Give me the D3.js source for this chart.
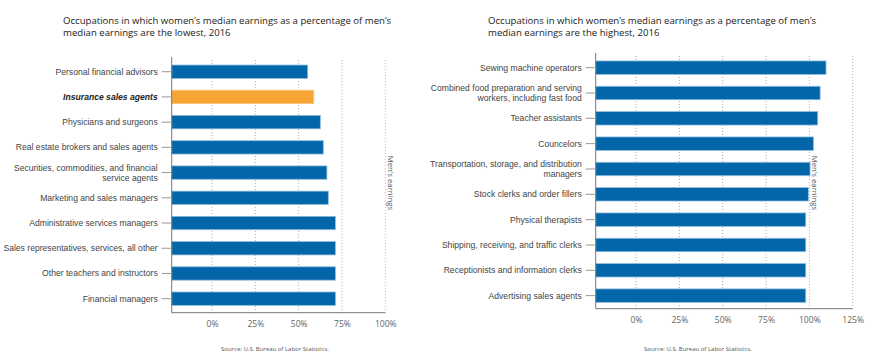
<!DOCTYPE html>
<html>
<head>
<meta charset="utf-8">
<script src="https://cdn.jsdelivr.net/npm/d3@7"></script>
<style>
  body { margin: 0; background: #fff; }
  svg { display: block; font-family: "Open Sans", sans-serif; }
</style>
</head>
<body>
<svg id="chart" width="875" height="359"></svg>
<script>
const leftTitle = ["Occupations in which women\u2019s median earnings as a percentage of men\u2019s", "median earnings are the lowest, 2016"];
const leftCategories = [
  ["Personal financial advisors"],
  ["Insurance sales agents"],
  ["Physicians and surgeons"],
  ["Real estate brokers and sales agents"],
  ["Securities, commodities, and financial", "service agents"],
  ["Marketing and sales managers"],
  ["Administrative services managers"],
  ["Sales representatives, services, all other"],
  ["Other teachers and instructors"],
  ["Financial managers"]
];
const leftValues = [55.2, 58.7, 62.5, 64.2, 66.3, 67.1, 71.2, 71.2, 71.2, 71.2];
const leftHighlight = "Insurance sales agents";
const leftTicks = [0, 25, 50, 75, 100];

const rightTitle = ["Occupations in which women\u2019s median earnings as a percentage of men\u2019s", "median earnings are the highest, 2016"];
const rightCategories = [
  ["Sewing machine operators"],
  ["Combined food preparation and serving", "workers, including fast food"],
  ["Teacher assistants"],
  ["Councelors"],
  ["Transportation, storage, and distribution", "managers"],
  ["Stock clerks and order fillers"],
  ["Physical therapists"],
  ["Shipping, receiving, and traffic clerks"],
  ["Receptionists and information clerks"],
  ["Advertising sales agents"]
];
const rightValues = [109.6, 106.2, 104.8, 102.3, 100.4, 99.4, 97.9, 97.9, 97.9, 97.9];
const rightTicks = [0, 25, 50, 75, 100, 125];

const referenceValue = 100;
const referenceLabel = "Men\u2019s earnings";
const sourceText = "Source: U.S. Bureau of Labor Statistics.";

const svg = d3.select("#chart");

function panel(cfg) {
  const g = svg.append("g");
  const names = cfg.categories.map(c => c.join(" "));
  const x = d3.scaleLinear().domain([-23.3, cfg.max]).range([cfg.x0, cfg.x1]);
  const y = d3.scaleBand().domain(names).range([cfg.y0, cfg.y1]).paddingInner(0.47).paddingOuter(0.235);

  // title
  const t = g.append("text").attr("x", cfg.titleX).attr("y", 24)
    .attr("fill", "#222").style("font-size", "9.6px");
  cfg.title.forEach((line, i) => t.append("tspan").attr("x", cfg.titleX).attr("dy", i ? 12 : 0).text(line));

  // gridlines
  g.selectAll(".grid").data(cfg.ticks).join("line")
    .attr("x1", d => x(d)).attr("x2", d => x(d))
    .attr("y1", cfg.y0 + 1).attr("y2", cfg.axisY)
    .attr("stroke", d => d === referenceValue ? "#e8a0a0" : "#aaa")
    .attr("stroke-width", 1)
    .attr("stroke-dasharray", "1,2");

  // bars
  g.selectAll(".bar").data(cfg.values).join("rect")
    .attr("x", x.range()[0])
    .attr("y", (d, i) => y(names[i]))
    .attr("width", d => x(d) - x.range()[0])
    .attr("height", y.bandwidth())
    .attr("fill", (d, i) => names[i] === cfg.highlight ? "#f7a535" : "#0366a8")
    .attr("stroke", (d, i) => names[i] === cfg.highlight ? "#fbc47a" : "#8dbde0")
    .attr("stroke-width", 0.8);

  // y axis
  const ya = g.append("g").attr("transform", `translate(${cfg.x0},0)`)
    .call(d3.axisLeft(y).tickSize(10).tickPadding(4).tickFormat(""));
  ya.select(".domain").attr("stroke", "#777").attr("d", `M0,${cfg.y0 - 2}V${cfg.axisY}`);
  ya.selectAll(".tick line").attr("stroke", "#999");
  ya.selectAll(".tick").each(function(d, i) {
    const lines = cfg.categories[i];
    const hl = names[i] === cfg.highlight;
    const txt = d3.select(this).append("text")
      .attr("x", -14).attr("fill", hl ? "#222" : "#444")
      .attr("text-anchor", "end")
      .style("font-size", "8.6px")
      .style("font-weight", hl ? "bold" : "normal")
      .style("font-style", hl ? "italic" : "normal");
    const off = lines.length === 1 ? 3 : -1.5;
    lines.forEach((l, j) => txt.append("tspan").attr("x", -14).attr("y", off + j * 9.5).text(l));
  });

  // x axis
  const xa = g.append("g").attr("transform", `translate(0,${cfg.axisY})`)
    .call(d3.axisBottom(x).tickValues(cfg.ticks).tickSize(0).tickPadding(8).tickFormat(d => d + "%"));
  xa.select(".domain").attr("stroke", "#777").attr("d", `M${cfg.x0},0H${cfg.x1}`);
  xa.selectAll(".tick text").attr("fill", "#666").style("font-size", "8.6px").style("font-family", "Open Sans, sans-serif");

  // reference label
  g.append("text")
    .attr("transform", `translate(${x(referenceValue) + 3},183) rotate(90)`)
    .attr("text-anchor", "middle").attr("fill", "#555")
    .style("font-size", "7.8px").text(referenceLabel);

  // source
  g.append("text").attr("x", cfg.sourceX).attr("y", 351)
    .attr("text-anchor", "middle").attr("fill", "#555")
    .style("font-size", "6px").text(sourceText);
}

panel({ title: leftTitle, titleX: 63, categories: leftCategories, values: leftValues, highlight: leftHighlight,
  ticks: leftTicks, max: 100, x0: 171.7, x1: 385.3, y0: 59.1, y1: 311.3, axisY: 312.7, sourceX: 275 });
panel({ title: rightTitle, titleX: 488, categories: rightCategories, values: rightValues, highlight: null,
  ticks: rightTicks, max: 125, x0: 595.7, x1: 852.7, y0: 55, y1: 308.3, axisY: 308.7, sourceX: 698 });
</script>
</body>
</html>
